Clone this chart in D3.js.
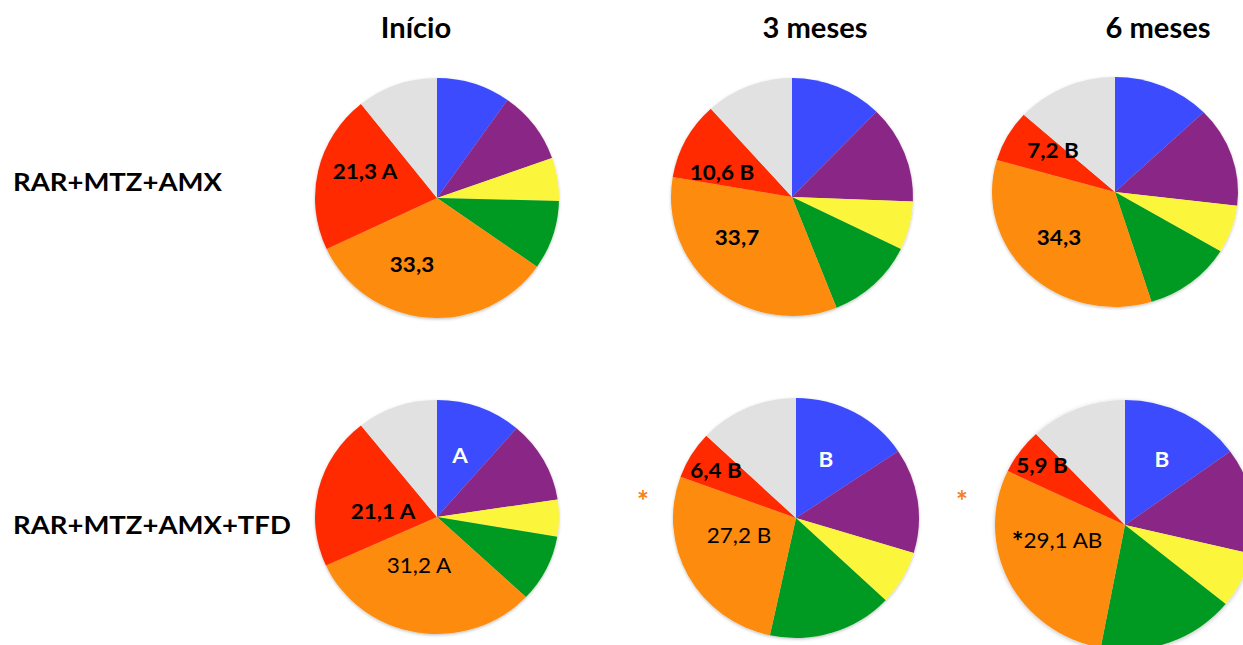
<!DOCTYPE html>
<html>
<head>
<meta charset="utf-8">
<script src="https://cdn.jsdelivr.net/npm/d3@7"></script>
<style>
  body { margin: 0; background: #fff; }
  svg { display: block; font-family: Lato, "Open Sans", sans-serif; }
</style>
</head>
<body>
<svg width="1243" height="645"></svg>
<script>
// slice order: clockwise from 12 o'clock
var slices = ["azul", "roxo", "amarelo", "verde", "laranja", "vermelho", "cinza"];
var colors = ["#3a4cfd", "#8a2886", "#fbf53b", "#009a20", "#fd8b10", "#ff2a00", "#e1e1e1"];

var columns = ["Início", "3 meses", "6 meses"];
var rows = ["RAR+MTZ+AMX", "RAR+MTZ+AMX+TFD"];

// percentages per pie
var amxInicio = [9.8, 9.8, 5.8, 9.3, 33.3, 21.3, 10.7];
var amx3m     = [12.3, 13.3, 6.6, 11.8, 33.7, 10.6, 11.7];
var amx6m     = [12.8, 14.1, 6.7, 11.6, 34.3, 7.2, 13.3];
var tfdInicio = [11.3, 11.3, 5.1, 9.3, 31.2, 21.1, 10.7];
var tfd3m     = [15.6, 14.1, 7.3, 16.4, 27.2, 6.4, 13.0];
var tfd6m     = [15.0, 13.7, 7.2, 17.1, 29.1, 5.9, 12.0];

// labels: text, slice index, bold?, colour
var amxInicioLabels = [["21,3 A", 5, true, "#000"], ["33,3", 4, true, "#000"]];
var amx3mLabels     = [["10,6 B", 5, true, "#000"], ["33,7", 4, true, "#000"]];
var amx6mLabels     = [["7,2 B", 5, true, "#000"], ["34,3", 4, true, "#000"]];
var tfdInicioLabels = [["A", 0, true, "#fff"], ["21,1 A", 5, true, "#000"], ["31,2 A", 4, false, "#000"]];
var tfd3mLabels     = [["B", 0, true, "#fff"], ["6,4 B", 5, true, "#000"], ["27,2 B", 4, false, "#000"]];
var tfd6mLabels     = [["B", 0, true, "#fff"], ["5,9 B", 5, true, "#000"], ["*29,1 AB", 4, false, "#000"]];

var pies = [
  {vals: amxInicio, labels: amxInicioLabels, star: false},
  {vals: amx3m, labels: amx3mLabels, star: false},
  {vals: amx6m, labels: amx6mLabels, star: false},
  {vals: tfdInicio, labels: tfdInicioLabels, star: false},
  {vals: tfd3m, labels: tfd3mLabels, star: true},
  {vals: tfd6m, labels: tfd6mLabels, star: true}
];

// layout: centre, radii (pies are slightly stretched), label offsets
var layout = [
  {cx: 437, cy: 198, rx: 122, ry: 120, off: [[-72, -27], [-25, 66]]},
  {cx: 792, cy: 197, rx: 121, ry: 119, off: [[-70, -25], [-55, 40]]},
  {cx: 1115, cy: 192, rx: 123, ry: 115, off: [[-62, -42], [-56, 45]]},
  {cx: 437, cy: 517, rx: 122, ry: 117, off: [[23, -62], [-54, -6], [-18, 48]]},
  {cx: 796, cy: 518, rx: 123, ry: 120, off: [[30, -59], [-80, -48], [-57, 17]], star: [-153, -18]},
  {cx: 1125, cy: 525, rx: 130, ry: 125, off: [[37, -66], [-83, -60], [-68, 15]], star: [-163, -25]}
];

var svg = d3.select("svg");
var defs = svg.append("defs");
var f = defs.append("filter").attr("id", "sh").attr("x", "-10%").attr("y", "-10%").attr("width", "120%").attr("height", "120%");
f.append("feDropShadow").attr("dx", 0).attr("dy", 1).attr("stdDeviation", 1.5).attr("flood-color", "#000").attr("flood-opacity", 0.25);

// text stretched a little wider, like the reference
function label(parent, x, y, txt, size, sx, anchor) {
  return parent.append("g")
    .attr("transform", "translate(" + x + "," + y + ") scale(" + sx + ",1)")
    .append("text")
    .attr("text-anchor", anchor || "middle")
    .attr("dominant-baseline", "central")
    .style("font-size", size + "px")
    .style("font-weight", "bold")
    .text(txt);
}

var colorScale = d3.scaleOrdinal().domain(slices).range(colors);
var pie = d3.pie().sort(null).value(function(d) { return d; });
var arc = d3.arc().innerRadius(0).outerRadius(100);

pies.forEach(function(p, i) {
  var L = layout[i];
  var g = svg.append("g")
    .attr("transform", "translate(" + L.cx + "," + L.cy + ")");
  g.append("g")
    .attr("transform", "scale(" + (L.rx / 100) + "," + (L.ry / 100) + ")")
    .attr("filter", "url(#sh)")
    .selectAll("path")
    .data(pie(p.vals))
    .enter()
    .append("path")
    .attr("d", arc)
    .attr("fill", function(d, j) { return colorScale(slices[j]); });

  p.labels.forEach(function(l, k) {
    var t = label(g, L.off[k][0], L.off[k][1], "", 21, 1.07)
      .style("font-weight", l[2] ? "bold" : "normal")
      .attr("fill", l[3]);
    if (l[0].charAt(0) == "*") {
      // leading asterisk is drawn bigger and bold in the original
      t.append("tspan").style("font-size", "26px").style("font-weight", "bold").text("*");
      t.append("tspan").text(l[0].slice(1));
    } else {
      t.text(l[0]);
    }
  });

  if (p.star) {
    label(g, L.star[0], L.star[1], "*", 28, 1)
      .attr("fill", "#f5801e");
  }
});

// column titles
var colX = [416, 815, 1158];
columns.forEach(function(c, i) {
  label(svg, colX[i], 27, c, 28, 1.04);
});

// row labels
var rowY = [181, 524];
rows.forEach(function(r, i) {
  label(svg, 13, rowY[i], r, 25, 1.1, "start");
});
</script>
</body>
</html>
